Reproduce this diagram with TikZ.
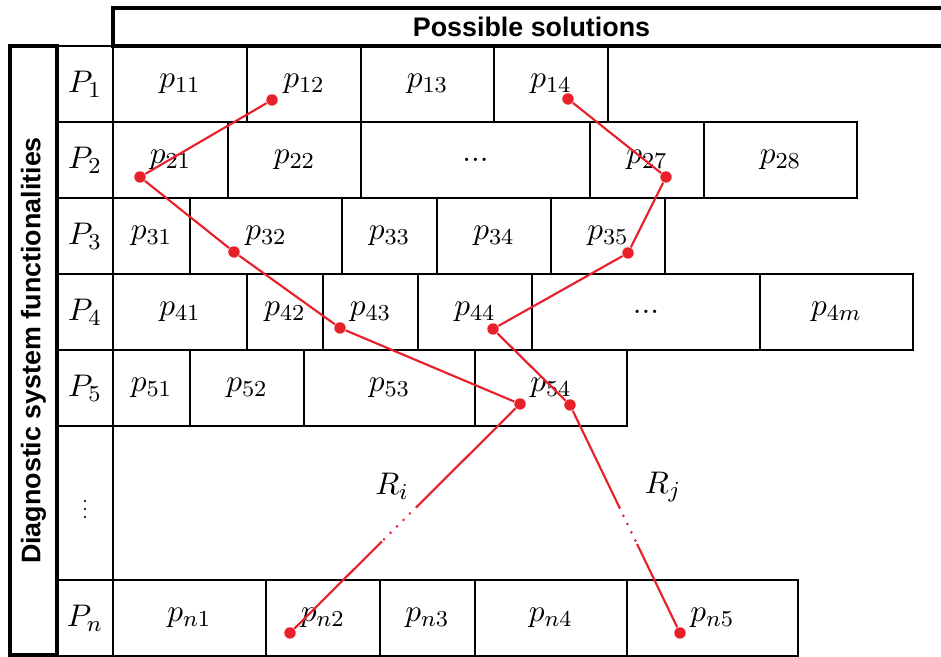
\documentclass[tikz,border=0pt]{standalone}
\usepackage{amsmath}
\usepackage{fontspec}
\setsansfont{Liberation Sans}
\usepackage{tikz}
\usetikzlibrary{calc}
\definecolor{ink}{HTML}{000000}
\definecolor{redline}{HTML}{E8202A}
\newcommand{\gapdots}{.\kern0pt.\kern0pt.}
\tikzset{
  cell/.style={draw=ink,line width=1pt,inner sep=0pt,minimum height=26.6pt,font=\fontsize{11pt}{13pt}\selectfont},
  frame/.style={draw=ink,line width=1.4pt,inner sep=0pt,font=\sffamily\bfseries\fontsize{9.4pt}{11pt}\selectfont},
  dot/.style={circle,fill=redline,inner sep=0pt,minimum size=4pt},
  trail/.style={draw=redline,line width=0.75pt},
  gaptrail/.style={draw=redline,line width=1pt,line cap=round,dash pattern=on 0pt off 3.2pt},
  lbl/.style={inner sep=1pt,font=\fontsize{11pt}{13pt}\selectfont}
}
\begin{document}
\begin{tikzpicture}[x=0.35pt,y=-0.35pt]
  \useasboundingbox (0,0) rectangle (941,657);
  % headers
  \node[frame,minimum width=292.95pt,minimum height=13.3pt] (head) at (531.5,27) {Possible solutions};
  \node[frame,rotate=90,minimum width=213.15pt,minimum height=16.45pt] (side) at (33.5,350.5)
    {Diagnostic system functionalities};
  % functionality labels
  \foreach \r/\y in {1/84,2/160,3/236,4/312,5/388}
    \node[cell,minimum width=19.6pt] (P\r) at (85,\y) {$P_{\r}$};
  \node[cell,minimum width=19.6pt,minimum height=53.9pt] (Pd) at (85,503) {\scalebox{0.7}{$\vdots$}};
  \node[cell,minimum width=19.6pt] (Pn) at (85,618) {$P_n$};
  % solution cells, row by row
  \foreach \a/\b/\k/\t in {113/247/11/p_{11},247/361/12/p_{12},361/494/13/p_{13},494/608/14/p_{14}}
    \node[cell,minimum width={(\b-\a)*0.35pt}] (c\k) at ({(\a+\b)/2},84) {$\t$};
  \foreach \a/\b/\k/\t in {113/228/21/p_{21},228/361/22/p_{22},361/590/2d/\gapdots,590/704/27/p_{27},704/857/28/p_{28}}
    \node[cell,minimum width={(\b-\a)*0.35pt}] (c\k) at ({(\a+\b)/2},160) {$\t$};
  \foreach \a/\b/\k/\t in {113/190/31/p_{31},190/342/32/p_{32},342/437/33/p_{33},437/551/34/p_{34},551/665/35/p_{35}}
    \node[cell,minimum width={(\b-\a)*0.35pt}] (c\k) at ({(\a+\b)/2},236) {$\t$};
  \foreach \a/\b/\k/\t in {113/247/41/p_{41},247/323/42/p_{42},323/418/43/p_{43},418/532/44/p_{44},532/760/4d/\gapdots,760/913/4m/p_{4m}}
    \node[cell,minimum width={(\b-\a)*0.35pt}] (c\k) at ({(\a+\b)/2},312) {$\t$};
  \foreach \a/\b/\k/\t in {113/190/51/p_{51},190/304/52/p_{52},304/475/53/p_{53},475/627/54/p_{54}}
    \node[cell,minimum width={(\b-\a)*0.35pt}] (c\k) at ({(\a+\b)/2},388) {$\t$};
  \foreach \a/\b/\k/\t in {113/266/n1/p_{n1},266/380/n2/p_{n2},380/475/n3/p_{n3},475/627/n4/p_{n4},627/798/n5/p_{n5}}
    \node[cell,minimum width={(\b-\a)*0.35pt}] (c\k) at ({(\a+\b)/2},618) {$\t$};
  % route R_i
  \node[dot] (i1) at (272,100) {};
  \node[dot] (i2) at (140,177) {};
  \node[dot] (i3) at (234,252) {};
  \node[dot] (i4) at (340,328) {};
  \node[dot] (i5) at (520,404) {};
  \node[dot] (i6) at (290,633) {};
  \draw[trail] (i1) -- (i2) -- (i3) -- (i4) -- (i5);
  \coordinate (gi1) at ($(i5)!0.45!(i6)$);
  \coordinate (gi2) at ($(i5)!0.6!(i6)$);
  \draw[trail] (i5) -- (gi1);
  \draw[gaptrail] (gi1) -- (gi2);
  \draw[trail] (gi2) -- (i6);
  % route R_j
  \node[dot] (j1) at (568,99) {};
  \node[dot] (j2) at (666,177) {};
  \node[dot] (j3) at (628,253) {};
  \node[dot] (j4) at (493,329) {};
  \node[dot] (j5) at (570,405) {};
  \node[dot] (j6) at (680,633) {};
  \draw[trail] (j1) -- (j2) -- (j3) -- (j4) -- (j5);
  \coordinate (gj1) at ($(j5)!0.45!(j6)$);
  \coordinate (gj2) at ($(j5)!0.61!(j6)$);
  \draw[trail] (j5) -- (gj1);
  \draw[gaptrail] (gj1) -- (gj2);
  \draw[trail] (gj2) -- (j6);
  % route names
  \node[lbl] (ri) at (392,486) {$R_i$};
  \node[lbl] (rj) at (663,487) {$R_j$};
\end{tikzpicture}
\end{document}
